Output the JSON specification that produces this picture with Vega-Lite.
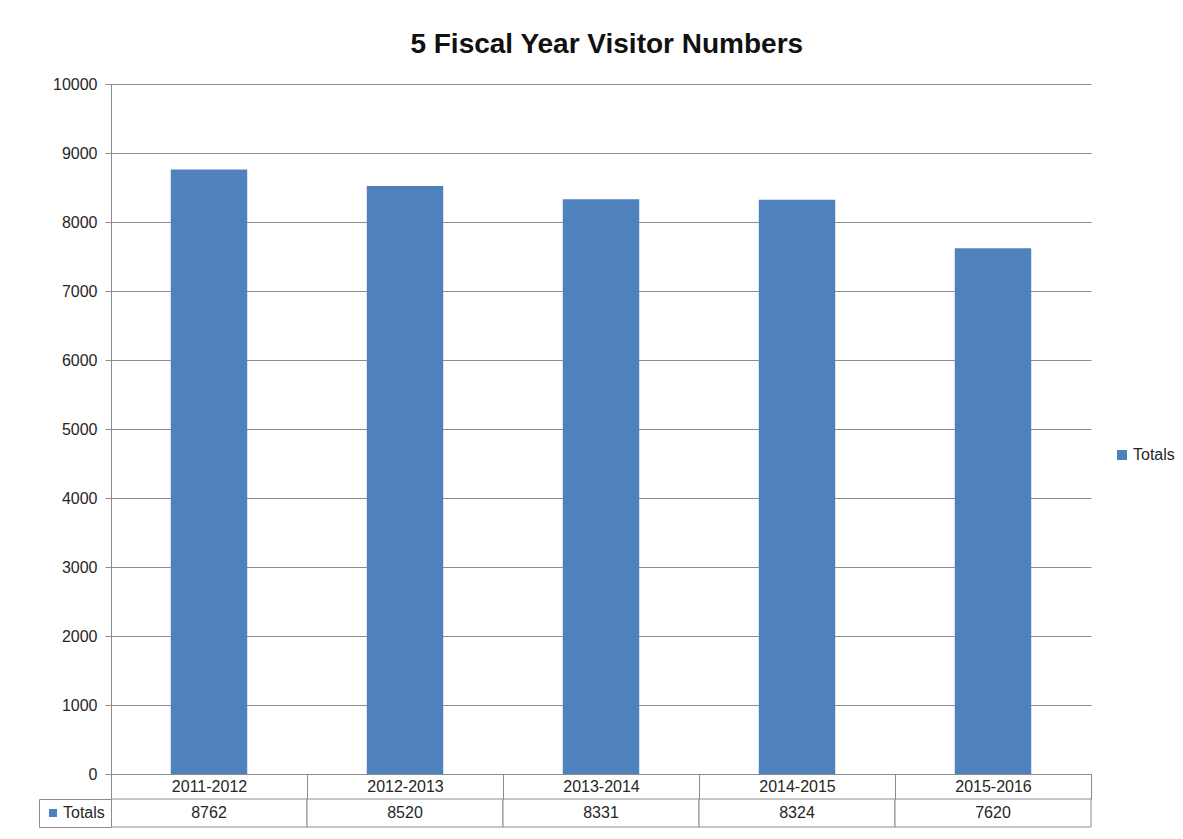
{
  "$schema": "https://vega.github.io/schema/vega-lite/v6.json",
  "background": "white",
  "padding": {"left": 38, "top": 31, "right": 0, "bottom": 0},
  "title": {"text": "5 Fiscal Year Visitor Numbers", "font": "Liberation Sans", "fontSize": 28, "fontWeight": "bold", "color": "#111111", "anchor": "middle", "offset": 17},
  "datasets": {
    "visitors": [
      {"year": "2011-2012", "Totals": 8762},
      {"year": "2012-2013", "Totals": 8520},
      {"year": "2013-2014", "Totals": 8331},
      {"year": "2014-2015", "Totals": 8324},
      {"year": "2015-2016", "Totals": 7620}
    ]
  },
  "spacing": 25,
  "bounds": "flush",
  "resolve": {"scale": {"color": "independent"}, "legend": {"color": "independent"}},
  "vconcat": [
    {
      "width": 980,
      "height": 690,
      "data": {"name": "visitors"},
      "mark": {"type": "bar", "width": {"band": 0.39}, "color": "#4F81BD"},
      "encoding": {
        "x": {
          "field": "year", "type": "nominal", "sort": null,
          "scale": {"paddingInner": 0, "paddingOuter": 0},
          "axis": {"title": null, "labelAngle": 0, "domainColor": "#8c8c8c", "tickColor": "#8c8c8c", "tickSize": 25, "tickBand": "extent", "labelBaseline": "middle", "labelPadding": -12.5, "labelFont": "Liberation Sans", "labelFontSize": 16, "labelColor": "#262626", "grid": false}
        },
        "y": {
          "field": "Totals", "type": "quantitative",
          "scale": {"domain": [0, 10000]},
          "axis": {"title": null, "values": [0, 1000, 2000, 3000, 4000, 5000, 6000, 7000, 8000, 9000, 10000], "format": "d", "domainColor": "#8c8c8c", "tickColor": "#8c8c8c", "tickSize": 6, "gridColor": "#8c8c8c", "gridOpacity": 1, "labelPadding": 8, "labelFont": "Liberation Sans", "labelFontSize": 16, "labelColor": "#262626"}
        },
        "color": {
          "datum": "Totals",
          "scale": {"range": ["#4F81BD"]},
          "legend": {"title": null, "orient": "none", "legendX": 1003, "legendY": 363, "symbolType": "square", "symbolSize": 100, "symbolStrokeWidth": 0, "labelFont": "Liberation Sans", "labelFontSize": 16, "labelColor": "#262626", "labelOffset": 3, "padding": 0}
        }
      }
    },
    {
      "width": 980,
      "height": 28,
      "data": {"name": "visitors"},
      "encoding": {
        "x": {"field": "year", "type": "nominal", "sort": null, "scale": {"paddingInner": 0, "paddingOuter": 0}, "axis": null},
        "y": {"datum": "Totals", "type": "nominal", "scale": {"paddingInner": 0, "paddingOuter": 0}, "axis": null}
      },
      "layer": [
        {"mark": {"type": "rect", "fill": "white", "stroke": "#8c8c8c", "strokeWidth": 1}},
        {"mark": {"type": "text", "font": "Liberation Sans", "fontSize": 16, "color": "#262626"}, "encoding": {"text": {"field": "Totals", "type": "quantitative", "format": "d"}}},
        {
          "mark": {"type": "square", "opacity": 0},
          "encoding": {
            "color": {
              "datum": "Totals",
              "scale": {"range": ["#4F81BD"]},
              "legend": {"title": null, "orient": "none", "legendX": -72, "legendY": 0, "symbolType": "square", "symbolSize": 64, "symbolOpacity": 1, "symbolFillColor": "#4F81BD", "symbolStrokeWidth": 0, "strokeColor": "#8c8c8c", "fillColor": "white", "padding": 6, "labelFont": "Liberation Sans", "labelFontSize": 16, "labelColor": "#262626", "labelOffset": 2}
            }
          }
        }
      ]
    }
  ],
  "config": {"view": {"stroke": null}, "font": "Liberation Sans"}
}
